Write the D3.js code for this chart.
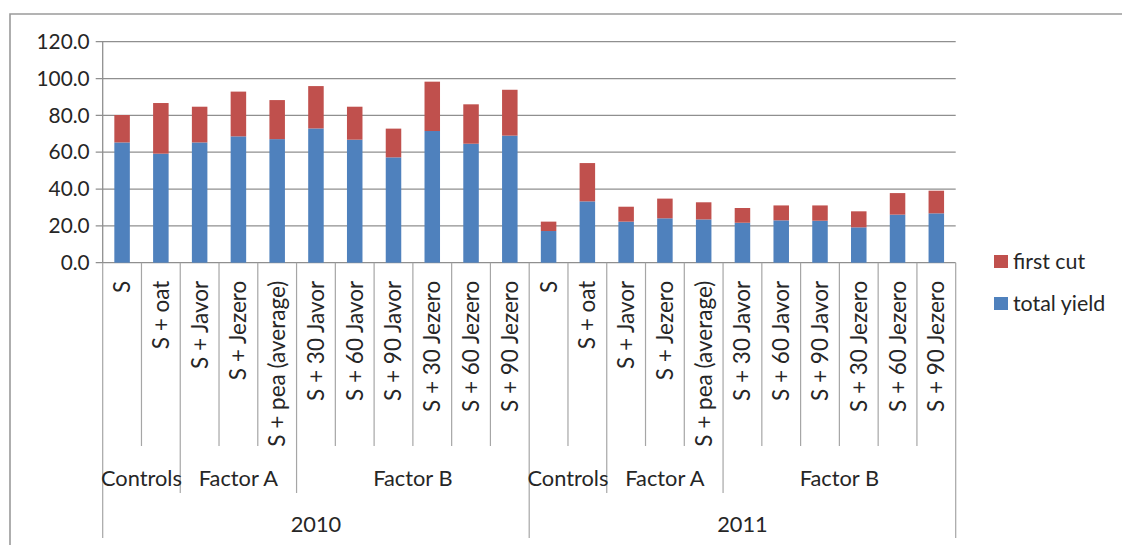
<!DOCTYPE html>
<html>
<head>
<meta charset="utf-8">
<script src="https://cdn.jsdelivr.net/npm/d3@7"></script>
<style>
  html, body { margin: 0; padding: 0; background: #fff; }
  svg { display: block; }
  text { font-family: Lato, "Open Sans", sans-serif; fill: #262626; }
</style>
</head>
<body>
<svg id="chart" width="1122" height="545"></svg>
<script>
// Years, treatment groups and treatments (same layout both years)
const years = ["2010", "2011"];
const groupNames = ["Controls", "Factor A", "Factor B"];
const groupSizes = [2, 3, 6];
const treatments = [
  "S", "S + oat",
  "S + Javor", "S + Jezero", "S + pea (average)",
  "S + 30 Javor", "S + 60 Javor", "S + 90 Javor",
  "S + 30 Jezero", "S + 60 Jezero", "S + 90 Jezero"
];

// Yield values, in category order (2010 treatments, then 2011 treatments)
const totalYield = [65.3, 59.2, 65.3, 68.6, 67.1, 72.9, 66.8, 57.2, 71.5, 64.6, 69.0,
                    17.2, 33.3, 22.3, 24.1, 23.5, 21.7, 23.0, 22.8, 19.2, 26.1, 26.8];
const firstCut   = [14.9, 27.5, 19.4, 24.3, 21.2, 23.0, 17.9, 15.6, 26.8, 21.4, 24.9,
                     5.1, 20.8,  8.1, 10.7,  9.3,  8.0,  8.1,  8.3,  8.7, 11.7, 12.3];

const yTicks = [0, 20, 40, 60, 80, 100, 120];

const seriesNames = ["total yield", "first cut"];
const colors = { "total yield": "#4F81BD", "first cut": "#C0504D" };

// Build category rows
const rows = [];
years.forEach((yr, yi) => {
  treatments.forEach((t, ti) => {
    const i = yi * treatments.length + ti;
    rows.push({ key: yr + "|" + t, year: yr, label: t,
                "total yield": totalYield[i], "first cut": firstCut[i] });
  });
});

const svg = d3.select("#chart");
const plot = { left: 102.7, right: 955.7, top: 41.7, bottom: 262.7 };
const gridColor = "#8f8f8f";

// Outer chart frame
svg.append("path")
  .attr("d", `M10,560 V14 H1130`)
  .attr("fill", "none").attr("stroke", "#9a9a9a").attr("stroke-width", 1.6);

const x = d3.scaleBand()
  .domain(rows.map(d => d.key))
  .range([plot.left, plot.right])
  .paddingInner(0.6).paddingOuter(0.3);
const step = x.step();
const slotLeft = k => x(k) - x.paddingOuter() * step;

const y = d3.scaleLinear().domain([0, 120]).range([plot.bottom, plot.top]);

// Horizontal gridlines
svg.append("g").selectAll("line").data(yTicks).join("line")
  .attr("x1", plot.left - 7).attr("x2", plot.right)
  .attr("y1", d => y(d)).attr("y2", d => y(d))
  .attr("stroke", gridColor).attr("stroke-width", 1.3);

// Y axis labels
const yAxis = svg.append("g").attr("transform", `translate(${plot.left},0)`)
  .call(d3.axisLeft(y).tickValues(yTicks).tickFormat(d3.format(".1f"))
        .tickSize(7).tickPadding(6));
yAxis.select(".domain").remove();
yAxis.selectAll(".tick line").remove();
yAxis.selectAll("text").attr("font-size", 20.8).attr("fill", "#262626")
  .style("font-family", "Lato, sans-serif");

// Stacked bars
const stack = d3.stack().keys(seriesNames)(rows);
svg.append("g").selectAll("g").data(stack).join("g")
  .attr("fill", d => colors[d.key])
  .selectAll("rect").data(d => d).join("rect")
  .attr("x", d => x(d.data.key))
  .attr("width", x.bandwidth())
  .attr("y", d => y(d[1]))
  .attr("height", d => y(d[0]) - y(d[1]));

// Multi-level category axis dividers
const catBottom = 446, groupBottom = 493, yearBottom = 538;
const divs = [];
rows.forEach((r, i) => {
  const ti = i % treatments.length;
  let bottom = catBottom;
  if (ti === 0) bottom = yearBottom;
  else {
    let acc = 0;
    groupSizes.forEach(n => { acc += n; if (acc === ti) bottom = groupBottom; });
  }
  divs.push({ x: slotLeft(r.key), bottom });
});
divs.push({ x: plot.right, bottom: yearBottom });

svg.append("g").selectAll("line").data(divs).join("line")
  .attr("x1", d => d.x).attr("x2", d => d.x)
  .attr("y1", plot.bottom).attr("y2", d => d.bottom)
  .attr("stroke", "#a6a6a6").attr("stroke-width", 1.2);

// Y axis line (continues down as the year divider)
svg.append("line")
  .attr("x1", plot.left).attr("x2", plot.left)
  .attr("y1", plot.top).attr("y2", plot.bottom)
  .attr("stroke", gridColor).attr("stroke-width", 1.3);

// Treatment labels, rotated
svg.append("g").selectAll("text").data(rows).join("text")
  .attr("transform", d => `translate(${x(d.key) + x.bandwidth() / 2 + 8},${plot.bottom + 18}) rotate(-90)`)
  .attr("text-anchor", "end")
  .attr("font-size", 22.5)
  .text(d => d.label);

// Group labels
const groupLabels = [];
years.forEach((yr, yi) => {
  let start = yi * treatments.length;
  groupNames.forEach((g, gi) => {
    const a = rows[start].key, b = rows[start + groupSizes[gi] - 1].key;
    const x0 = slotLeft(a), x1 = slotLeft(b) + step;
    groupLabels.push({ name: g, cx: (x0 + x1) / 2 });
    start += groupSizes[gi];
  });
});
svg.append("g").selectAll("text").data(groupLabels).join("text")
  .attr("x", d => d.cx).attr("y", 486)
  .attr("text-anchor", "middle").attr("font-size", 21.8)
  .text(d => d.name);

// Year labels
svg.append("g").selectAll("text").data(years).join("text")
  .attr("x", (d, yi) => {
    const a = rows[yi * treatments.length].key;
    const b = rows[(yi + 1) * treatments.length - 1].key;
    return (slotLeft(a) + slotLeft(b) + step) / 2;
  })
  .attr("y", 532)
  .attr("text-anchor", "middle").attr("font-size", 21.8)
  .text(d => d);

// Legend
const legendItems = ["first cut", "total yield"];
const lg = svg.append("g").selectAll("g").data(legendItems).join("g")
  .attr("transform", (d, i) => `translate(994,${255 + i * 42})`);
lg.append("rect").attr("width", 14).attr("height", 13).attr("fill", d => colors[d]);
lg.append("text").attr("x", 19).attr("y", 13.5).attr("font-size", 21.4).text(d => d);
</script>
</body>
</html>
